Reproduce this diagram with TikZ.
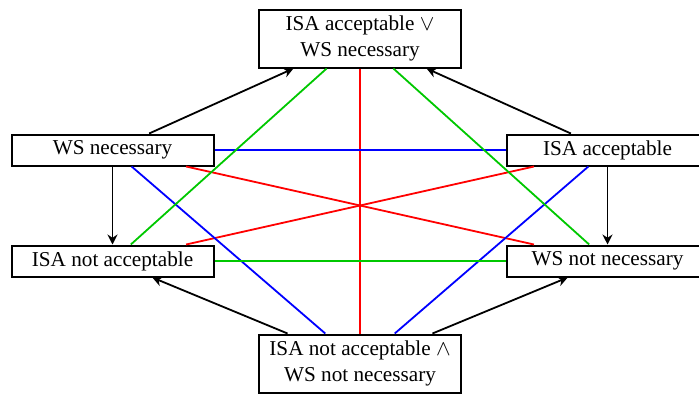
\documentclass[tikz,border=0pt]{standalone}
\usepackage{fontspec}
\setmainfont{Liberation Serif}
\usetikzlibrary{arrows.meta}
\definecolor{myred}{RGB}{255,0,0}
\definecolor{myblue}{RGB}{0,0,255}
\definecolor{mygreen}{RGB}{0,200,0}
\begin{document}
\begin{tikzpicture}[x=0.5pt,y=-0.5pt,
  box/.style={draw, line width=1pt, minimum width=101pt, minimum height=15.5pt, inner sep=2pt, align=center, font=\fontsize{10.6}{13}\selectfont},
  bigbox/.style={box, minimum height=29pt},
  arr/.style={line width=0.9pt, -{Stealth[length=5pt,width=5pt]}},
  con/.style={line width=0.9pt}]
\useasboundingbox (0,0) rectangle (699,396);
\node[bigbox] (t) at (360,38.5) {ISA acceptable $\vee$\\WS necessary};
\node[bigbox] (b) at (360,363.5) {ISA not acceptable $\wedge$\\WS not necessary};
\node[box] (wn) at (112.5,150) {WS necessary};
\node[box] (ia) at (607.5,150) {ISA acceptable};
\node[box] (ina) at (112.5,261) {ISA not acceptable};
\node[box] (wnn) at (607.5,261) {WS not necessary};
% red
\draw[con, myred] (t) -- (b);
\draw[con, myred] (wn) -- (wnn);
\draw[con, myred] (ina) -- (ia);
% blue
\draw[con, myblue] (wn) -- (ia);
\draw[con, myblue] (wn) -- (b);
\draw[con, myblue] (ia) -- (b);
% green
\draw[con, mygreen] (ina) -- (wnn);
\draw[con, mygreen] (ina) -- (t);
\draw[con, mygreen] (wnn) -- (t);
% arrows
\draw[arr] (wn) -- (t);
\draw[arr] (ia) -- (t);
\draw[arr] (wn) -- (ina);
\draw[arr] (ia) -- (wnn);
\draw[arr] (b) -- (ina);
\draw[arr] (b) -- (wnn);
\end{tikzpicture}
\end{document}
